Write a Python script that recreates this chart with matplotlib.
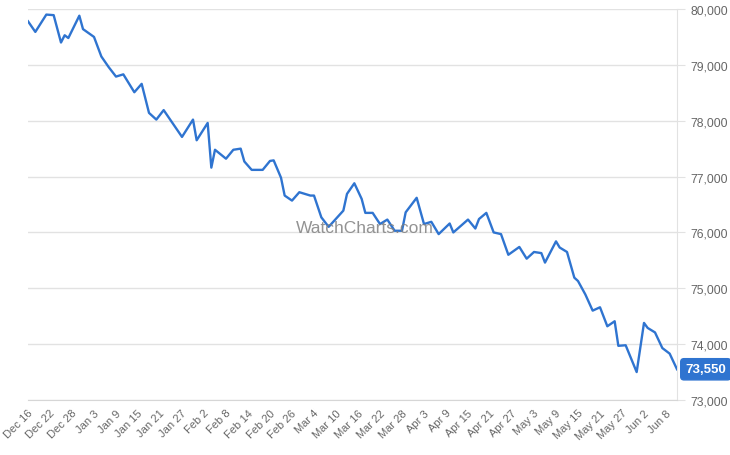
import matplotlib
matplotlib.use("Agg")
import matplotlib.pyplot as plt
import matplotlib.transforms as mtransforms
import pandas as pd

dates = [
    "2024-12-16", "2024-12-18", "2024-12-21", "2024-12-23", "2024-12-25", "2024-12-26",
    "2024-12-27", "2024-12-30", "2024-12-31", "2025-01-03", "2025-01-05", "2025-01-07",
    "2025-01-09", "2025-01-11", "2025-01-14", "2025-01-16", "2025-01-18", "2025-01-20",
    "2025-01-22", "2025-01-27", "2025-01-30", "2025-01-31", "2025-02-03", "2025-02-04",
    "2025-02-05", "2025-02-08", "2025-02-10", "2025-02-12", "2025-02-13", "2025-02-15",
    "2025-02-18", "2025-02-20", "2025-02-21", "2025-02-23", "2025-02-24", "2025-02-26",
    "2025-02-28", "2025-03-03", "2025-03-04", "2025-03-06", "2025-03-08", "2025-03-12",
    "2025-03-13", "2025-03-15", "2025-03-17", "2025-03-18", "2025-03-20", "2025-03-22",
    "2025-03-24", "2025-03-26", "2025-03-28", "2025-03-29", "2025-04-01", "2025-04-03",
    "2025-04-05", "2025-04-07", "2025-04-10", "2025-04-11", "2025-04-15", "2025-04-17",
    "2025-04-18", "2025-04-20", "2025-04-22", "2025-04-24", "2025-04-26", "2025-04-29",
    "2025-05-01", "2025-05-03", "2025-05-05", "2025-05-06", "2025-05-09", "2025-05-10",
    "2025-05-12", "2025-05-14", "2025-05-15", "2025-05-17", "2025-05-19", "2025-05-21",
    "2025-05-23", "2025-05-25", "2025-05-26", "2025-05-28", "2025-05-31", "2025-06-02",
    "2025-06-03", "2025-06-05", "2025-06-07", "2025-06-09", "2025-06-11",
]
prices = [
    79780, 79590, 79900, 79890, 79400, 79530, 79480, 79880, 79640, 79500,
    79150, 78960, 78790, 78830, 78510, 78660, 78140, 78020, 78190, 77710,
    78020, 77650, 77960, 77160, 77480, 77320, 77480, 77500, 77270, 77120,
    77120, 77280, 77290, 76980, 76660, 76570, 76720, 76660, 76660, 76270,
    76100, 76390, 76690, 76880, 76600, 76350, 76350, 76150, 76230, 76030,
    76030, 76360, 76620, 76150, 76190, 75970, 76160, 76000, 76230, 76070,
    76240, 76350, 76000, 75970, 75600, 75740, 75530, 75650, 75630, 75460,
    75840, 75730, 75650, 75190, 75130, 74890, 74600, 74660, 74320, 74410,
    73970, 73980, 73500, 74380, 74290, 74210, 73930, 73830, 73550,
]
y_ticks = [73000, 74000, 75000, 76000, 77000, 78000, 79000, 80000]
last_label = "73,550"

x = pd.to_datetime(dates)
tick_dates = pd.date_range("2024-12-16", "2025-06-08", freq="6D")

plt.rcParams['font.family'] = ['Liberation Sans', 'DejaVu Sans']
grey = "#666666"
gridc = "#e2e2e2"
blue = "#2f74d0"

fig = plt.figure(figsize=(7.3, 4.56), dpi=100)
ax = fig.add_axes([28 / 730, 1 - 401 / 456, 649 / 730, 391 / 456])

ax.plot(x, prices, color=blue, lw=1.7, solid_joinstyle="round", zorder=3)

ax.set_xlim(x[0], x[-1])
ax.set_ylim(73000, 80000)

ax.yaxis.tick_right()
ax.set_yticks(y_ticks)
ax.set_yticklabels([f"{v:,}" for v in y_ticks])
ax.grid(axis="y", color=gridc, lw=1)
ax.tick_params(axis="y", length=6, color=gridc, labelcolor=grey, labelsize=8.7, pad=4)

ax.set_xticks(tick_dates)
ax.set_xticklabels([d.strftime("%b ") + str(d.day) for d in tick_dates],
                   rotation=45, ha="right", va="center", rotation_mode="anchor")
ax.tick_params(axis="x", length=0, labelcolor=grey, labelsize=8, pad=8)
shift = mtransforms.ScaledTranslation(3 / 100, 0, fig.dpi_scale_trans)
for lab in ax.get_xticklabels():
    lab.set_transform(lab.get_transform() + shift)

for s in ["top", "left"]:
    ax.spines[s].set_visible(False)
ax.spines["right"].set_color(gridc)
ax.spines["bottom"].set_color("#d6d6d6")

ax.text(0.519, 0.44, "WatchCharts.com", transform=ax.transAxes, ha="center", va="center",
        fontsize=12.5, color="#808080", alpha=0.85, zorder=4)

ax.annotate(last_label, xy=(1, prices[-1]), xycoords=("axes fraction", "data"),
            xytext=(6, 0), textcoords="offset points", ha="left", va="center",
            fontsize=9.5, fontweight="bold", color="white", zorder=5,
            bbox=dict(boxstyle="round,pad=0.35,rounding_size=0.25", fc=blue, ec=blue))

fig.savefig("out.png", dpi=100)
